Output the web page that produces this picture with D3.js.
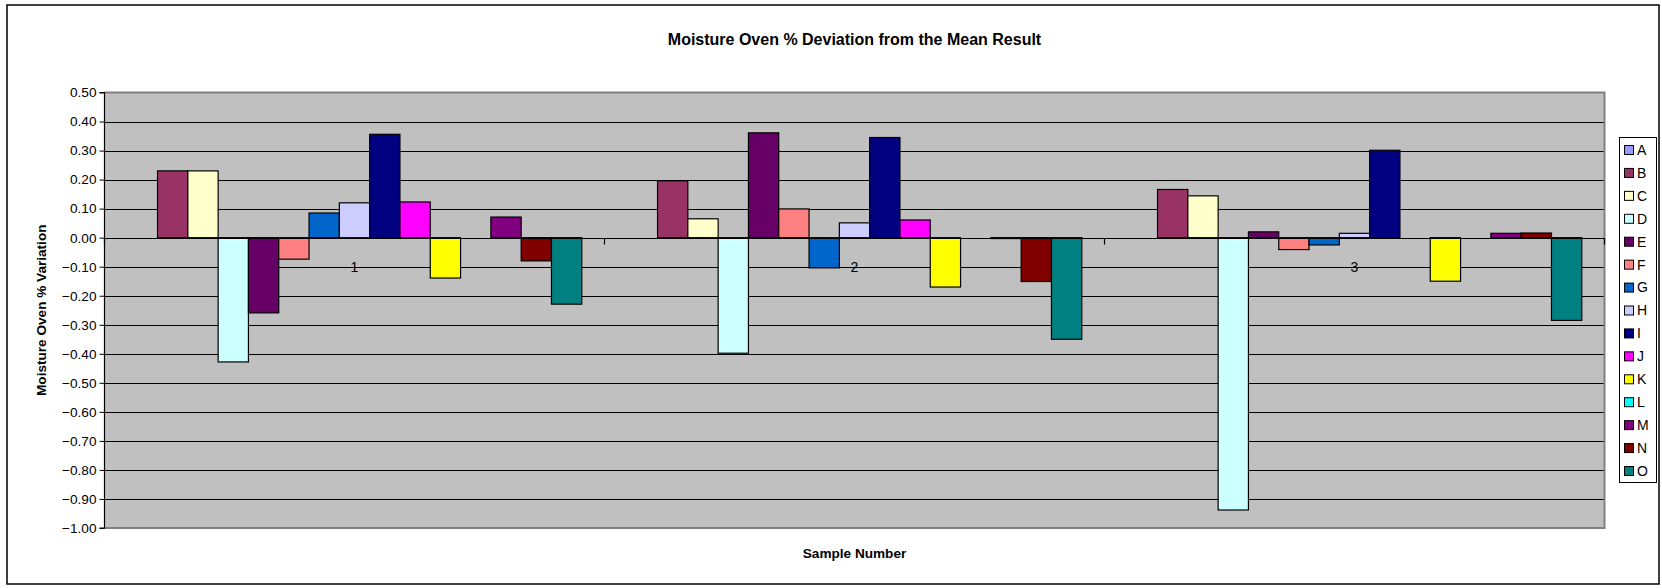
<!DOCTYPE html>
<html><head><meta charset="utf-8">
<script src="https://cdn.jsdelivr.net/npm/d3@7/dist/d3.min.js"></script>
<style>body{margin:0;background:#fff}svg{display:block}text{font-family:"Liberation Sans",Arial,sans-serif}</style>
</head><body>
<script>
const categories = ["1","2","3"];
const seriesNames = ["A","B","C","D","E","F","G","H","I","J","K","L","M","N","O"];
const seriesColors = ["#9999FF","#993366","#FFFFCC","#CCFFFF","#660066","#FF8080","#0066CC","#CCCCFF","#000080","#FF00FF","#FFFF00","#00FFFF","#800080","#800000","#008080"];
// values per series, one per sample (null = no value)
const sA = [null, null, null];
const sB = [0.230, 0.196, 0.166];
const sC = [0.230, 0.065, 0.144];
const sD = [-0.428, -0.398, -0.938];
const sE = [-0.259, 0.361, 0.020];
const sF = [-0.074, 0.099, -0.041];
const sG = [0.085, -0.104, -0.025];
const sH = [0.120, 0.051, 0.015];
const sI = [0.356, 0.345, 0.301];
const sJ = [0.123, 0.061, null];
const sK = [-0.139, -0.170, -0.150];
const sL = [null, null, null];
const sM = [0.071, -0.003, 0.015];
const sN = [-0.080, -0.151, 0.016];
const sO = [-0.229, -0.350, -0.285];
const yTicks = [0.5,0.4,0.3,0.2,0.1,0,-0.1,-0.2,-0.3,-0.4,-0.5,-0.6,-0.7,-0.8,-0.9,-1.0];
const titleText = "Moisture Oven % Deviation from the Mean Result";
const xTitle = "Sample Number";
const yTitle = "Moisture Oven % Variation";

const seriesValues = [sA,sB,sC,sD,sE,sF,sG,sH,sI,sJ,sK,sL,sM,sN,sO];

const W = 1662, H = 588;
const plot = {l:104.5, r:1604.5, t:92.5, b:528};
const svg = d3.select("body").append("svg").attr("width",W).attr("height",H);

// outer border
svg.append("rect").attr("x",7).attr("y",5).attr("width",1652).attr("height",579)
  .attr("fill","#fff").attr("stroke","#000").attr("stroke-width",1.5);

const y = d3.scaleLinear().domain([-1,0.5]).range([plot.b, plot.t]);
const x0 = d3.scaleBand().domain(categories).range([plot.l, plot.r]).padding(0);
const x1 = d3.scaleBand().domain(seriesNames).range([0, x0.bandwidth()]).paddingInner(0).paddingOuter(0.75);

// plot background
svg.append("rect").attr("x",plot.l).attr("y",plot.t).attr("width",plot.r-plot.l).attr("height",plot.b-plot.t)
  .attr("fill","#C0C0C0");

// gridlines
svg.append("g").selectAll("line").data(yTicks.filter(t=>t>-1 && t<0.5)).join("line")
  .attr("x1",plot.l).attr("x2",plot.r)
  .attr("y1",d=>Math.round(y(d))+0.5).attr("y2",d=>Math.round(y(d))+0.5)
  .attr("stroke","#000").attr("stroke-width",1);

// plot border (top/right/bottom grey)
svg.append("path").attr("d",`M${plot.l},${plot.t}H${plot.r}V${plot.b}H${plot.l}`)
  .attr("fill","none").attr("stroke","#808080").attr("stroke-width",2);

// bars
const barData = [];
seriesNames.forEach((s,si)=>{
  categories.forEach((c,ci)=>{
    const v = seriesValues[si][ci];
    if(v!==null) barData.push({s, c, v, color: seriesColors[si]});
  });
});
svg.append("g").selectAll("rect").data(barData).join("rect")
  .attr("x",d=>x0(d.c)+x1(d.s))
  .attr("width",x1.bandwidth())
  .attr("y",d=>y(Math.max(0,d.v)))
  .attr("height",d=>Math.abs(y(d.v)-y(0)))
  .attr("fill",d=>d.color).attr("stroke","#000").attr("stroke-width",1.2);

// y axis
const yAxis = d3.axisLeft(y).tickValues(yTicks).tickFormat(d3.format(".2f")).tickSize(5).tickPadding(3);
const gy = svg.append("g").attr("transform",`translate(${plot.l},0)`).call(yAxis);
gy.select(".domain").attr("stroke","#000").attr("stroke-width",1.2).attr("d",`M-5,${plot.t}H0V${plot.b}H-5`);
gy.selectAll(".tick line").attr("stroke","#000");
gy.selectAll("text").attr("font-size",13.6).attr("fill","#000").attr("font-family","Liberation Sans, Arial, sans-serif");

// x axis at zero
const zeroY = Math.round(y(0))+0.5;
const xAxis = d3.axisBottom(x0).tickSize(0).tickPadding(33);
const gx = svg.append("g").attr("transform",`translate(0,${zeroY})`).call(xAxis);
gx.select(".domain").attr("stroke","#000").attr("stroke-width",1.2).attr("d",`M${plot.l},0H${plot.r}`);
gx.selectAll("text").attr("font-size",14).attr("fill","#000").attr("font-family","Liberation Sans, Arial, sans-serif").attr("dy","0");
// boundary ticks
const bounds = categories.map(c=>x0(c)).concat([plot.r]);
gx.append("g").selectAll("line").data(bounds).join("line")
  .attr("x1",d=>d).attr("x2",d=>d).attr("y1",0).attr("y2",6).attr("stroke","#000").attr("stroke-width",1.2);

// titles
svg.append("text").attr("x",(plot.l+plot.r)/2).attr("y",45).attr("text-anchor","middle")
  .attr("font-size",16).attr("font-weight","bold").text(titleText);
svg.append("text").attr("x",(plot.l+plot.r)/2).attr("y",558).attr("text-anchor","middle")
  .attr("font-size",13.6).attr("font-weight","bold").text(xTitle);
svg.append("text").attr("transform",`translate(46,${(plot.t+plot.b)/2}) rotate(-90)`).attr("text-anchor","middle")
  .attr("font-size",13.6).attr("font-weight","bold").text(yTitle);

// legend
const lg = svg.append("g");
lg.append("rect").attr("x",1619.5).attr("y",137.5).attr("width",37).attr("height",345)
  .attr("fill","#fff").attr("stroke","#000").attr("stroke-width",1);
const ly = d3.scaleLinear().domain([0,14]).range([150,471]);
const items = lg.selectAll("g.it").data(seriesNames).join("g").attr("class","it")
  .attr("transform",(d,i)=>`translate(1624,${ly(i)})`);
items.append("rect").attr("x",0.5).attr("y",-4.5).attr("width",9).attr("height",9)
  .attr("fill",(d,i)=>seriesColors[i]).attr("stroke","#000").attr("stroke-width",1);
items.append("text").attr("x",13).attr("y",0).attr("dy","0.35em").attr("font-size",14).text(d=>d);
</script>
</body></html>
